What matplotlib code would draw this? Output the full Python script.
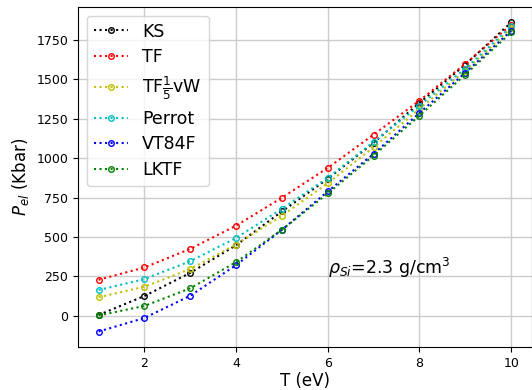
import matplotlib
matplotlib.use("Agg")
import matplotlib.pyplot as plt

T = [1, 2, 3, 4, 5, 6, 7, 8, 9, 10]
KS = [6, 126, 273, 448, 662, 869, 1097, 1350, 1592, 1860]
TF = [229, 307, 425, 572, 749, 938, 1149, 1364, 1598, 1845]
TFvW = [118, 185, 297, 452, 635, 841, 1069, 1312, 1554, 1824]
Perrot = [164, 233, 347, 494, 679, 875, 1103, 1333, 1567, 1834]
VT84F = [-99, -13, 128, 322, 546, 789, 1027, 1286, 1541, 1807]
LKTF = [3, 63, 175, 341, 546, 776, 1016, 1269, 1529, 1796]

series = [
    ("KS", KS, "k"),
    ("TF", TF, "r"),
    (r"TF$\frac{1}{5}$vW", TFvW, "y"),
    ("Perrot", Perrot, "c"),
    ("VT84F", VT84F, "b"),
    ("LKTF", LKTF, "g"),
]

fig = plt.figure(figsize=(5.32, 3.9), dpi=100)
ax = fig.add_axes([0.1466, 0.1103, 0.853, 0.872])
for name, vals, col in series:
    ax.plot(T, vals, linestyle=":", marker="o", color=col, markersize=4,
            markerfacecolor="none", markeredgewidth=1.0, linewidth=1.5, label=name)

ax.grid(True, color="#cccccc", linewidth=1.0)
ax.set_axisbelow(True)
ax.set_xticks([2, 4, 6, 8, 10])
ax.set_yticks([0, 250, 500, 750, 1000, 1250, 1500, 1750])
ax.tick_params(labelsize=9)
ax.set_xlabel("T (eV)", fontsize=12, labelpad=2)
ax.set_ylabel(r"$P_{el}$ (Kbar)", fontsize=12)
ax.text(6, 268, r"$\rho_{Si}$=2.3 g/cm$^3$", fontsize=12.5)
ax.legend(loc="upper left", fontsize=12.5, handlelength=2.0, labelspacing=0.45)
fig.savefig("out.png", dpi=100)
